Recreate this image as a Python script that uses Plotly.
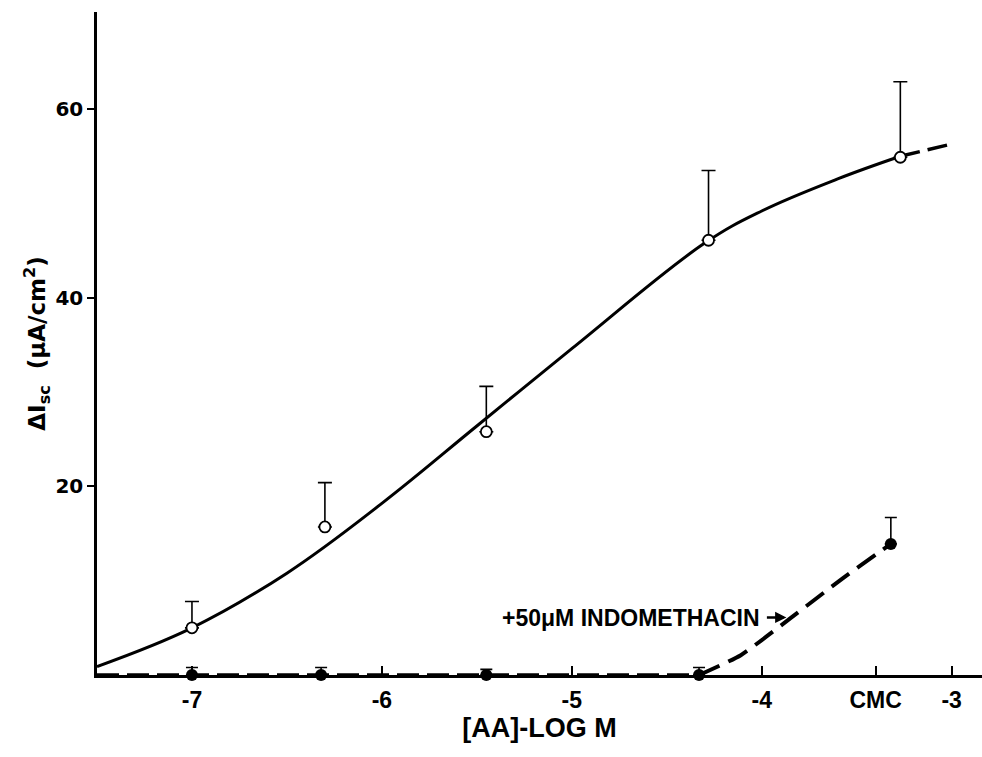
import plotly.graph_objects as go

# ---- data ----
ctrl_x = [-7.0, -6.3, -5.45, -4.28, -3.27]
ctrl_y = [5.0, 15.7, 25.8, 46.1, 54.9]
ctrl_err = [2.8, 4.7, 4.8, 7.4, 8.0]

indo_x = [-7.0, -6.32, -5.45, -4.33, -3.32]
indo_y = [0.0, 0.0, 0.0, 0.0, 13.9]
indo_err = [0.8, 0.8, 0.6, 0.8, 2.8]

# fitted curve (hand-drawn in the original)
fit_x = [-7.5, -7.0, -6.5, -6.0, -5.5, -5.0, -4.3, -4.0, -3.6, -3.27]
fit_y = [0.9, 5.0, 10.8, 18.2, 26.4, 34.6, 45.8, 49.2, 52.6, 55.0]
fit_ext_x = [-3.27, -3.0]
fit_ext_y = [55.0, 56.3]

indo_flat_x = [-7.5, -4.33]
indo_flat_y = [0.0, 0.0]
indo_rise_x = [-4.33, -4.11, -3.85, -3.57, -3.39, -3.32]
indo_rise_y = [0.0, 2.1, 6.0, 10.3, 12.9, 13.9]

xtick_vals = [-7, -6, -5, -4, -3.4, -3]
xtick_text = ["-7", "-6", "-5", "-4", "CMC", "-3"]
ytick_vals = [20, 40, 60]
ytick_text = ["20", "40", "60"]

COND = "Liberation Sans Narrow, Liberation Sans, Arial"

fig = go.Figure()

fig.add_trace(go.Scatter(x=fit_x, y=fit_y, mode="lines",
                         line=dict(color="black", width=3, shape="spline", smoothing=1.1),
                         hoverinfo="skip", showlegend=False))
fig.add_trace(go.Scatter(x=fit_ext_x, y=fit_ext_y, mode="lines",
                         line=dict(color="black", width=3.5, dash="20px,8px"),
                         hoverinfo="skip", showlegend=False))
fig.add_trace(go.Scatter(x=indo_flat_x, y=indo_flat_y, mode="lines",
                         line=dict(color="black", width=3.5, dash="22px,8px"),
                         hoverinfo="skip", showlegend=False))
fig.add_trace(go.Scatter(x=indo_rise_x, y=indo_rise_y, mode="lines",
                         line=dict(color="black", width=4, dash="22px,10px",
                                   shape="spline", smoothing=0.5),
                         hoverinfo="skip", showlegend=False))

fig.add_trace(go.Scatter(x=ctrl_x, y=ctrl_y, mode="markers",
                         marker=dict(symbol="circle", size=11, color="white",
                                     line=dict(color="black", width=1.8)),
                         error_y=dict(type="data", symmetric=False, array=ctrl_err,
                                      arrayminus=[0] * len(ctrl_err),
                                      color="black", thickness=1.6, width=7),
                         showlegend=False))
fig.add_trace(go.Scatter(x=indo_x, y=indo_y, mode="markers",
                         marker=dict(symbol="circle", size=12, color="black"),
                         error_y=dict(type="data", symmetric=False, array=indo_err,
                                      arrayminus=[0] * len(indo_err),
                                      color="black", thickness=1.6, width=6),
                         cliponaxis=False, showlegend=False))

fig.add_annotation(x=-4.0, y=6.0, xref="x", yref="y", xanchor="right",
                   text="+50μM INDOMETHACIN", showarrow=False,
                   font=dict(family=COND, size=23, color="black", weight="bold"))
fig.add_annotation(x=-3.87, y=6.1, xref="x", yref="y", ax=-21, ay=0,
                   text="", showarrow=True, arrowhead=2, arrowsize=0.9,
                   arrowwidth=2.5, arrowcolor="black")

fig.update_layout(
    width=982, height=757,
    margin=dict(l=97, r=0, t=12, b=82),
    paper_bgcolor="white", plot_bgcolor="white",
    xaxis=dict(range=[-7.5, -2.84], showgrid=False, zeroline=False,
               showline=True, linecolor="black", linewidth=2.5,
               tickmode="array", tickvals=xtick_vals, ticktext=xtick_text,
               ticks="inside", ticklen=9, tickwidth=1.5, tickcolor="black",
               ticklabelstandoff=3,
               tickfont=dict(family=COND, size=23, color="black", weight="bold"),
               title=dict(text="[AA]-LOG M", standoff=4,
                          font=dict(family=COND, size=27, color="black", weight="bold"))),
    yaxis=dict(range=[0, 70.3], showgrid=False, zeroline=False,
               showline=True, linecolor="black", linewidth=2.5,
               tickmode="array", tickvals=ytick_vals, ticktext=ytick_text,
               ticks="outside", ticklen=7, tickwidth=1.5, tickcolor="black",
               ticklabelstandoff=0,
               tickfont=dict(family="DejaVu Sans", size=20, color="black", weight="bold"),
               title=dict(text="ΔI<sub>sc</sub>  (μA/cm<sup>2</sup>)", standoff=4,
                          font=dict(family="DejaVu Sans", size=23, color="black",
                                    weight="bold"))),
)

fig.write_html("out.html")
